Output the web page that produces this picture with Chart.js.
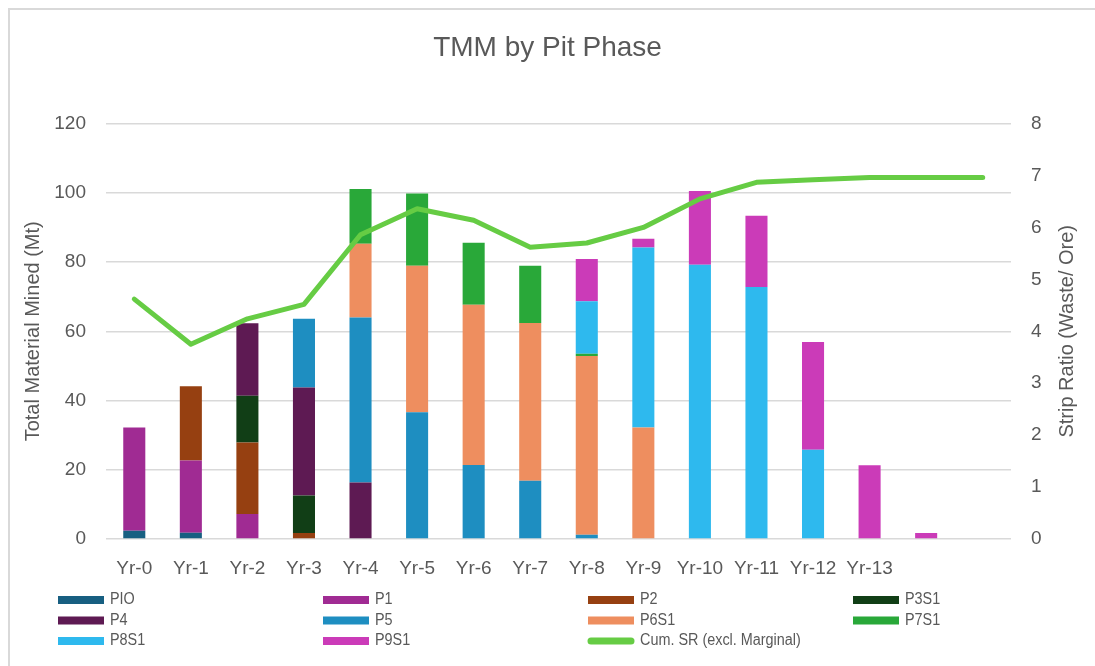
<!DOCTYPE html>
<html>
<head>
<meta charset="utf-8">
<script src="https://cdn.jsdelivr.net/npm/chart.js@4/dist/chart.umd.min.js"></script>
<style>
html,body{margin:0;padding:0;background:#fff;}
#wrap{width:1095px;height:666px;position:relative;}
</style>
</head>
<body>
<div id="wrap"><canvas id="c" width="1095" height="666"></canvas></div>
<script>
const categories = ['Yr-0','Yr-1','Yr-2','Yr-3','Yr-4','Yr-5','Yr-6','Yr-7','Yr-8','Yr-9','Yr-10','Yr-11','Yr-12','Yr-13','',''];
const PIO  = [2.4,1.8,0,0,0,0,0,0,0,0,0,0,0,0,0,0];
const P1   = [29.8,20.9,7.2,0,0,0,0,0,0,0,0,0,0,0,0,0];
const P2   = [0,21.4,20.7,1.7,0,0,0,0,0,0,0,0,0,0,0,0];
const P3S1 = [0,0,13.5,10.9,0,0,0,0,0,0,0,0,0,0,0,0];
const P4   = [0,0,20.9,31.2,16.3,0,0,0,0,0,0,0,0,0,0,0];
const P5   = [0,0,0,19.8,47.7,36.6,21.4,16.8,1.2,0,0,0,0,0,0,0];
const P6S1 = [0,0,0,0,21.3,42.3,46.3,45.6,51.7,32.2,0,0,0,0,0,0];
const P7S1 = [0,0,0,0,15.8,20.9,17.9,16.5,0.6,0,0,0,0,0,0,0];
const P8S1 = [0,0,0,0,0,0,0,0,15.2,52.0,79.2,72.8,25.8,0,0,0];
const P9S1 = [0,0,0,0,0,0,0,0,12.2,2.5,21.3,20.6,31.1,21.3,1.7,0];
const cumSR = [4.62,3.75,4.24,4.52,5.86,6.36,6.14,5.62,5.70,6.00,6.55,6.87,6.92,6.96,6.96,6.96];
const leftTicks = [0,20,40,60,80,100,120];
const rightTicks = [0,1,2,3,4,5,6,7,8];

const barSeries = [
  ['PIO', PIO, '#175F81'],
  ['P1', P1, '#A02B93'],
  ['P2', P2, '#964011'],
  ['P3S1', P3S1, '#113E16'],
  ['P4', P4, '#5E1A53'],
  ['P5', P5, '#1E8EC1'],
  ['P6S1', P6S1, '#EE8E5F'],
  ['P7S1', P7S1, '#29A839'],
  ['P8S1', P8S1, '#2EB9EE'],
  ['P9S1', P9S1, '#CB3BB8']
];
const lineColor = '#66CC44';
const textColor = '#595959';
const gridColor = '#D9D9D9';
const axisFont = "'Liberation Sans', Arial, sans-serif";
const legendFont = "'Liberation Sans', Arial, sans-serif";
const rightTitle = 'Strip Ratio (Waste/ Ore)';

const datasets = barSeries.map(([name, vals, col]) => ({
  type: 'bar', label: name, data: vals.map(v => v === 0 ? null : v),
  backgroundColor: col, borderWidth: 0, yAxisID: 'y', stack: 's',
  barPercentage: 0.39, categoryPercentage: 1.0, order: 2
}));
datasets.push({
  type: 'line', label: 'Cum. SR (excl. Marginal)', data: cumSR, yAxisID: 'y1',
  borderColor: lineColor, backgroundColor: lineColor, borderWidth: 5,
  pointRadius: 0, tension: 0, borderCapStyle: 'round', borderJoinStyle: 'round', order: 0
});

const frame = {
  id: 'frame',
  beforeDraw(chart) {
    const ctx = chart.ctx;
    ctx.save();
    ctx.fillStyle = '#fff';
    ctx.fillRect(0, 0, chart.width, chart.height);
    ctx.strokeStyle = gridColor; ctx.lineWidth = 2;
    ctx.beginPath();
    ctx.moveTo(9, chart.height); ctx.lineTo(9, 9); ctx.lineTo(chart.width, 9);
    ctx.stroke();
    ctx.restore();
  },
  afterDraw(chart) {
    // right axis title, reading bottom-to-top like the left one
    const ctx = chart.ctx;
    const s = chart.scales.y1;
    ctx.save();
    ctx.translate(s.right - 28, (s.top + s.bottom) / 2);
    ctx.rotate(-Math.PI / 2);
    ctx.font = '20px ' + axisFont;
    ctx.fillStyle = textColor;
    ctx.textAlign = 'center';
    ctx.textBaseline = 'middle';
    ctx.fillText(rightTitle, 0, 0);
    ctx.restore();
  }
};

const legendGrid = {
  id: 'legendGrid',
  afterDraw(chart) {
    const ctx = chart.ctx;
    const items = chart.data.datasets.map(d => ({label: d.label, color: d.type === 'line' ? d.borderColor : d.backgroundColor, line: d.type === 'line'}));
    const colX = [58, 323, 588, 853];
    const rowY = [600, 620.5, 641];
    ctx.save();
    ctx.textBaseline = 'middle';
    items.forEach((it, i) => {
      const x = colX[i % 4], y = rowY[Math.floor(i / 4)];
      ctx.fillStyle = it.color;
      if (it.line) {
        ctx.strokeStyle = it.color; ctx.lineWidth = 7; ctx.lineCap = 'round';
        ctx.beginPath(); ctx.moveTo(x + 3, y); ctx.lineTo(x + 43, y); ctx.stroke();
      } else {
        ctx.fillRect(x, y - 4, 46, 8);
      }
      ctx.save();
      ctx.translate(x + 52, y);
      ctx.scale(0.9, 1);
      ctx.font = '16px ' + legendFont;
      ctx.fillStyle = textColor;
      ctx.fillText(it.label, 0, 0);
      ctx.restore();
    });
    ctx.restore();
  }
};

new Chart(document.getElementById('c'), {
  data: { labels: categories, datasets },
  options: {
    responsive: false, animation: false,
    layout: { padding: { left: 0, right: 0, top: 0, bottom: 84 } },
    plugins: {
      legend: { display: false },
      tooltip: { enabled: false },
      title: {
        display: true, text: 'TMM by Pit Phase', color: textColor,
        font: { family: axisFont, size: 28, weight: 'normal' },
        padding: { top: 31, bottom: 59 }
      }
    },
    scales: {
      x: {
        stacked: true,
        grid: { display: false, drawTicks: false },
        border: { display: false },
        ticks: { color: textColor, font: { family: axisFont, size: 19 }, padding: 18, maxRotation: 0, autoSkip: false },
        afterFit(s) { s.height = 43; }
      },
      y: {
        stacked: true, position: 'left', min: 0, max: 120,
        afterBuildTicks(s) { s.ticks = leftTicks.map(v => ({value: v})); },
        grid: { color: gridColor, lineWidth: 1.5, drawTicks: false },
        border: { display: false },
        ticks: { color: textColor, font: { family: axisFont, size: 19 }, padding: 20 },
        title: { display: true, text: 'Total Material Mined (Mt)', color: textColor, font: { family: axisFont, size: 20 }, padding: { top: 21, bottom: 0 } },
        afterFit(s) { s.width = 106; }
      },
      y1: {
        position: 'right', min: 0, max: 8,
        afterBuildTicks(s) { s.ticks = rightTicks.map(v => ({value: v})); },
        grid: { display: false, drawTicks: false },
        border: { display: false },
        ticks: { color: textColor, font: { family: axisFont, size: 19 }, padding: 20 },
        title: { display: false },
        afterFit(s) { s.width = 84; }
      }
    }
  },
  plugins: [frame, legendGrid]
});
</script>
</body>
</html>
